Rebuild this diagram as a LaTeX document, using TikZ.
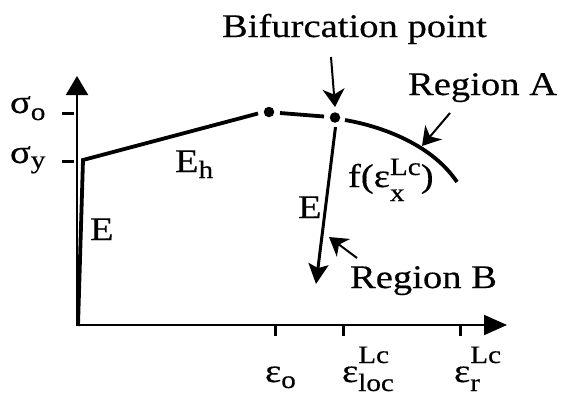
\documentclass[tikz,border=0pt]{standalone}
\usepackage{fontspec}
\setmainfont{Liberation Serif}[FakeStretch=1.17,FakeBold=0.4]
\usetikzlibrary{arrows.meta}
\tikzset{
  lbl/.style={anchor=base west, inner sep=0pt, outer sep=0pt, font=\fontsize{33}{36}\selectfont},
  axis/.style={line width=2pt},
  curve/.style={line width=3.8pt},
  tick/.style={line width=3pt},
  callout/.style={line width=2pt, -{Stealth[length=18pt,width=22pt,inset=5.5pt]}},
  dotmark/.style={circle, fill=black, inner sep=0pt, minimum size=10.5pt}
}
\newcommand{\smallfnt}{\fontsize{25}{26}\selectfont}
% base with subscript only: #1 base, #2 sub, #3 lowering
\newcommand{\SubOnly}[3]{#1\raisebox{-#3}{\smallfnt #2}}
% base with superscript and subscript: #1 base, #2 sup, #3 sub, #4 raise, #5 lower
\newcommand{\SupSub}[5]{#1{\smallfnt
  \setbox0=\hbox{#2}\setbox2=\hbox{#3}%
  \dimen0=\ifdim\wd0>\wd2 \wd0\else\wd2\fi
  \makebox[\dimen0][l]{\rlap{\raisebox{#4}{\copy0}}\raisebox{-#5}{\copy2}}}}
\begin{document}
\begin{tikzpicture}[x=1pt,y=-1pt]
\useasboundingbox (0,0) rectangle (562,399);
% axes
\coordinate (O) at (77,325);
\coordinate (ytop) at (77,76);
\coordinate (xend) at (507,325);
\draw[axis,-{Triangle[width=22pt,length=19pt]}] (O) -- (ytop);
\draw[axis,-{Triangle[width=20pt,length=23pt]}] (O) -- (xend);
% y ticks
\coordinate (so1) at (62,113); \coordinate (so2) at (74,113);
\coordinate (sy1) at (62,161); \coordinate (sy2) at (74,161);
\draw[tick] (so1) -- (so2);
\draw[tick] (sy1) -- (sy2);
% x ticks
\foreach \n/\x in {eo/275, el/343, er/460}{
  \coordinate (\n1) at (\x,325); \coordinate (\n2) at (\x,336);
  \draw[tick] (\n1) -- (\n2);
}
% curve
\coordinate (c0) at (78,326);
\coordinate (cy) at (83,160);
\coordinate (g1) at (258,113.5);
\node[dotmark] (d1) at (269,112) {};
\coordinate (g2) at (280,113);
\coordinate (g3) at (324,116.5);
\node[dotmark] (d2) at (335,117.5) {};
\coordinate (g4) at (345,120);
\coordinate (cend) at (457,182);
\draw[curve, line join=miter] (c0) -- (cy) -- (g1);
\draw[curve] (g2) -- (g3);
\draw[curve] (g4) .. controls (385,127) and (433,146) .. (cend);
% unloading branch
\coordinate (b0) at (335.5,127);
\coordinate (b1) at (316,284);
\draw[line width=3pt, -{Stealth[length=20pt,width=20pt,inset=4pt]}] (b0) -- (b1);
% labels
\node[lbl] (sigo) at (10,113) {\SubOnly{σ}{o}{7pt}};
\node[lbl] (sigy) at (10,163) {\SubOnly{σ}{y}{5pt}};
\node[lbl] (Eh) at (175,172) {\SubOnly{E}{h}{6pt}};
\node[lbl] (E1) at (90,240) {E};
\node[lbl] (E2) at (298,218) {E};
\node[lbl] (flab) at (348,187) {f(\SupSub{ε}{Lc}{x}{12pt}{14pt})};
\node[lbl] (bif) at (222,37) {Bifurcation point};
\node[lbl] (regA) at (408,95) {Region A};
\node[lbl] (regB) at (350,288) {Region B};
\node[lbl] (epso) at (265,382) {\SubOnly{ε}{o}{6pt}};
\node[lbl] (epsl) at (342,382) {\SupSub{ε}{Lc}{loc}{19pt}{9pt}};
\node[lbl] (epsr) at (454,382) {\SupSub{ε}{Lc}{r}{19pt}{9pt}};
% callouts
\coordinate (bt) at (331,57); \coordinate (bh) at (335,107);
\draw[callout] (bt) -- (bh);
\coordinate (at) at (450,113); \coordinate (ah) at (422,146);
\draw[callout] (at) -- (ah);
\coordinate (rbt) at (357,258); \coordinate (rbh) at (329,237);
\draw[callout] (rbt) -- (rbh);
\end{tikzpicture}
\end{document}
